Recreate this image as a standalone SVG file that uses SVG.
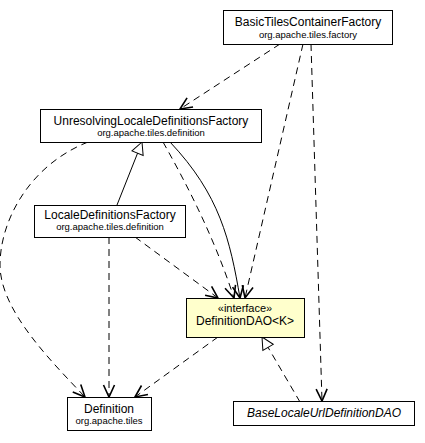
<svg xmlns="http://www.w3.org/2000/svg" width="425" height="443" viewBox="0 0 425 443">
<style>
.box{fill:#fff;stroke:#000;stroke-width:1}
.iface{fill:#ffffcc;stroke:#000;stroke-width:1}
.name{font-family:"Liberation Sans",Arial,sans-serif;font-size:12px;fill:#000;text-anchor:middle}
.pkg{font-family:"Liberation Sans",Arial,sans-serif;font-size:9.5px;fill:#000;text-anchor:middle}
.ster{font-family:"Liberation Sans",Arial,sans-serif;font-size:11px;fill:#000;text-anchor:middle}
.dash{fill:none;stroke:#000;stroke-width:1;stroke-dasharray:7,5}
.solid{fill:none;stroke:#000;stroke-width:1}
</style>
<defs>
<marker id="open" markerUnits="userSpaceOnUse" markerWidth="30" markerHeight="30" orient="auto" refX="0" refY="0" overflow="visible">
<path d="M-12,-5.5 L0,0 L-12,5.5" fill="none" stroke="#000" stroke-width="1.6"/>
</marker>
<marker id="tri" markerUnits="userSpaceOnUse" markerWidth="30" markerHeight="30" orient="auto" refX="0" refY="0" overflow="visible">
<path d="M0,0 L-12,-6 L-12,6 Z" fill="#fff" stroke="#000" stroke-width="1"/>
</marker>
</defs>
<g id="connectors">
<path class="dash" d="M280,44 L180,109" marker-end="url(#open)"/>
<path class="dash" d="M303,44 L245,298" marker-end="url(#open)"/>
<path class="dash" d="M311,44 L322,401" marker-end="url(#open)"/>
<path class="dash" d="M88,142 C30,165 0,220 0,265 C0,310 50,360 85,397" marker-end="url(#open)"/>
<path class="dash" d="M163,142 C190,190 215,240 234,298" marker-end="url(#open)"/>
<path class="solid" d="M170,142 C220,195 230,240 240,298" marker-end="url(#open)"/>
<path class="solid" d="M117,205 L142,142" marker-end="url(#tri)"/>
<path class="dash" d="M135,237 L218,298" marker-end="url(#open)"/>
<path class="dash" d="M109,237 L109,397" marker-end="url(#open)"/>
<path class="dash" d="M218,337 L135,397" marker-end="url(#open)"/>
<path class="dash" d="M300,402 L262,337" marker-end="url(#tri)"/>
</g>
<g id="BasicTilesContainerFactory">
<rect class="box" x="223.5" y="10.5" width="169" height="34"/>
<text class="name" x="308" y="26">BasicTilesContainerFactory</text>
<text class="pkg" x="308" y="38">org.apache.tiles.factory</text>
</g>
<g id="UnresolvingLocaleDefinitionsFactory">
<rect class="box" x="40.5" y="109.5" width="221" height="33"/>
<text class="name" x="151" y="125">UnresolvingLocaleDefinitionsFactory</text>
<text class="pkg" x="151" y="136">org.apache.tiles.definition</text>
</g>
<g id="LocaleDefinitionsFactory">
<rect class="box" x="34.5" y="205.5" width="151" height="32"/>
<text class="name" x="110" y="219">LocaleDefinitionsFactory</text>
<text class="pkg" x="110" y="230">org.apache.tiles.definition</text>
</g>
<g id="DefinitionDAO">
<rect class="iface" x="186.5" y="298.5" width="118" height="39"/>
<text class="ster" x="245" y="312">«interface»</text>
<text class="name" x="245" y="325">DefinitionDAO&lt;K&gt;</text>
</g>
<g id="Definition">
<rect class="box" x="67.5" y="397.5" width="84" height="33"/>
<text class="name" x="109" y="413">Definition</text>
<text class="pkg" x="109" y="424">org.apache.tiles</text>
</g>
<g id="BaseLocaleUrlDefinitionDAO">
<rect class="box" x="233.5" y="401.5" width="181" height="24"/>
<text class="name" x="324" y="417" font-style="italic">BaseLocaleUrlDefinitionDAO</text>
</g>
</svg>
